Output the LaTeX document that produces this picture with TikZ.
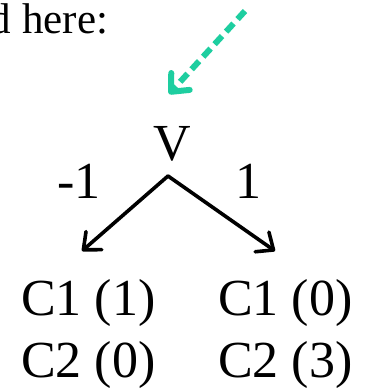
\documentclass[tikz,border=0pt]{standalone}
\usepackage{fontspec}
\setmainfont{Liberation Serif}
\usetikzlibrary{arrows.meta}
\definecolor{tealgreen}{RGB}{30,206,160}
\tikzset{
  lbl/.style={inner sep=0pt, outer sep=0pt, anchor=base west, font=\fontsize{52}{62}\selectfont},
  toptext/.style={inner sep=0pt, outer sep=0pt, anchor=base west, font=\fontsize{43}{50}\selectfont},
  branch/.style={draw=black, line width=3.6pt, line cap=round, line join=round,
    -{Straight Barb[length=14pt,width=24pt,line cap=round,line join=round]}},
  hint/.style={draw=tealgreen, line width=6pt, dash pattern=on 11pt off 6pt,
    -{Straight Barb[length=14pt,width=25pt,line cap=round,line join=round]}}
}
\begin{document}
\begin{tikzpicture}[x=1pt,y=-1pt]
\useasboundingbox (0,0) rectangle (365,391);
\clip (0,0) rectangle (365,391);
\node[toptext] (top) at (-10,33) {d here:};
\coordinate (gs) at (245,11);
\coordinate (ge) at (169,94);
\draw[hint] (gs) -- (ge);
\node[lbl, anchor=base] (v) at (172,160) {V};
\coordinate (apex) at (168,176);
\coordinate (lt) at (82,251);
\coordinate (rt) at (275,251);
\draw[branch] (apex) -- (lt);
\draw[branch] (apex) -- (rt);
\node[lbl] (lm) at (57,198) {-1};
\node[lbl, anchor=base] (rm) at (248,198) {1};
\node[lbl] (l1) at (21,315) {C1 (1)};
\node[lbl] (l2) at (21,377) {C2 (0)};
\node[lbl] (r1) at (218,315) {C1 (0)};
\node[lbl] (r2) at (218,377) {C2 (3)};
\end{tikzpicture}
\end{document}
